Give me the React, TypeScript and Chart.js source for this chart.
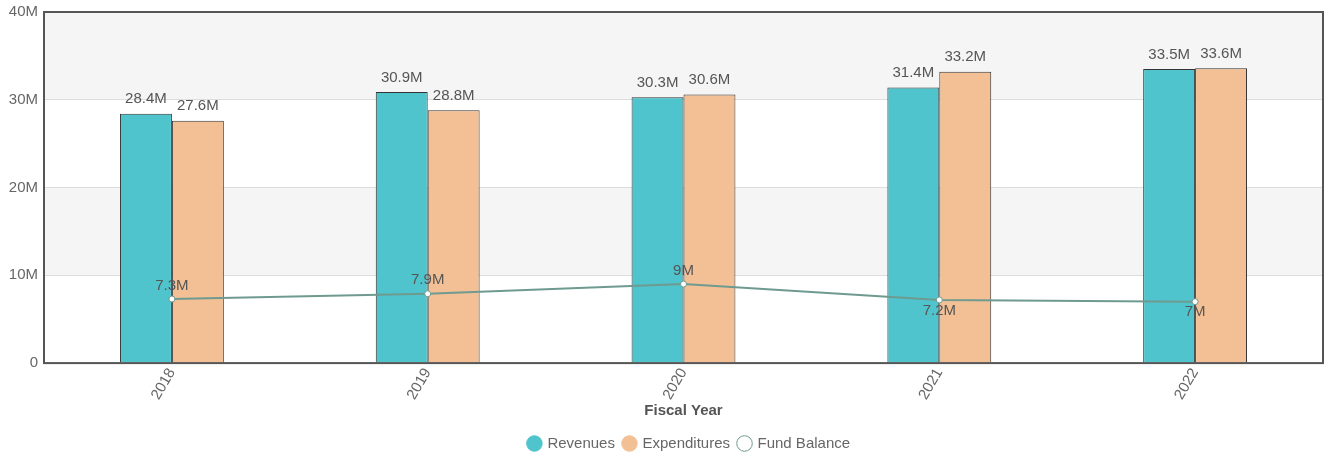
import React, { useEffect, useRef } from "react";
import { Chart, registerables } from "chart.js";

Chart.register(...registerables);

const categories = ["2018", "2019", "2020", "2021", "2022"];
const revenues = [28.4, 30.9, 30.3, 31.4, 33.5];
const expenditures = [27.6, 28.8, 30.6, 33.2, 33.6];
const fundBalance = [7.3, 7.9, 9.0, 7.2, 7.0];
const yTicks = [0, 10, 20, 30, 40];

const FONT = "'Liberation Sans', Arial, sans-serif";
const LINE = "#6f9a8f";
const FS = 15;

const fmt = (v: number) => (v === 0 ? "0" : `${+v.toFixed(1)}M`);

const bandsPlugin = {
  id: "bands",
  afterLayout(chart: any) {
    const lg = chart.legend;
    if (lg) {
      lg.left += 6;
      lg.right += 6;
    }
  },
  beforeDraw(chart: any) {
    const { ctx, chartArea, scales } = chart;
    const y = scales.y;
    ctx.save();
    for (let i = 0; i < yTicks.length - 1; i++) {
      if (i % 2 === 1) {
        const top = y.getPixelForValue(yTicks[i + 1] * 1e6);
        const bot = y.getPixelForValue(yTicks[i] * 1e6);
        ctx.fillStyle = "#f5f5f5";
        ctx.fillRect(chartArea.left, top, chartArea.right - chartArea.left, bot - top);
      }
    }
    ctx.restore();
  },
  afterDraw(chart: any) {
    const { ctx, chartArea } = chart;
    ctx.save();
    ctx.strokeStyle = "#555";
    ctx.lineWidth = 2;
    ctx.strokeRect(chartArea.left, chartArea.top, chartArea.right - chartArea.left, chartArea.bottom - chartArea.top);
    ctx.restore();
  },
};

const labelsPlugin = {
  id: "valueLabels",
  afterDatasetsDraw(chart: any) {
    const { ctx } = chart;
    ctx.save();
    ctx.font = `${FS}px ${FONT}`;
    ctx.fillStyle = "#555";
    ctx.textAlign = "center";
    chart.data.datasets.forEach((ds: any, di: number) => {
      const meta = chart.getDatasetMeta(di);
      meta.data.forEach((el: any, i: number) => {
        const v = ds.data[i] / 1e6;
        const text = fmt(v);
        if (ds.type === "line") {
          const prev = i > 0 ? ds.data[i - 1] : -Infinity;
          const above = ds.data[i] > prev;
          if (above) {
            ctx.textBaseline = "bottom";
            ctx.fillText(text, el.x, el.y - 6);
          } else {
            ctx.textBaseline = "top";
            ctx.fillText(text, el.x, el.y + 3);
          }
        } else {
          ctx.textBaseline = "bottom";
          ctx.fillText(text, el.x, el.y - 7);
        }
      });
    });
    ctx.restore();
  },
};

export default function App() {
  const ref = useRef<HTMLCanvasElement>(null);
  useEffect(() => {
    document.body.style.margin = "0";
    const chart = new Chart(ref.current!, {
      type: "bar",
      data: {
        labels: categories,
        datasets: [
          {
            type: "line",
            label: "Fund Balance",
            data: fundBalance.map((v) => v * 1e6),
            borderColor: LINE,
            backgroundColor: "#fff",
            borderWidth: 2,
            pointRadius: 3,
            pointBorderWidth: 1,
            pointBackgroundColor: "#fff",
            pointBorderColor: LINE,
            order: 0,
          } as any,
          {
            label: "Revenues",
            data: revenues.map((v) => v * 1e6),
            backgroundColor: "#50c4cc",
            borderColor: "#333",
            borderWidth: 1,
            order: 1,
          },
          {
            label: "Expenditures",
            data: expenditures.map((v) => v * 1e6),
            backgroundColor: "#f3c096",
            borderColor: "#333",
            borderWidth: 1,
            order: 1,
          },
        ],
      },
      options: {
        animation: false,
        responsive: true,
        maintainAspectRatio: false,
        layout: { padding: { top: 12, right: -2, left: 0, bottom: -7 } },
        datasets: { bar: { categoryPercentage: 0.406, barPercentage: 1 } },
        plugins: {
          legend: {
            position: "bottom",
            fullSize: false,
            labels: {
              font: { family: FONT, size: FS },
              color: "#666",
              usePointStyle: true,
              pointStyle: "circle",
              boxWidth: 11,
              boxHeight: 11,
              padding: 9,
              generateLabels: (chart: any) => {
                const order = ["Revenues", "Expenditures", "Fund Balance"];
                return order.map((name) => {
                  const di = chart.data.datasets.findIndex((d: any) => d.label === name);
                  const ds = chart.data.datasets[di];
                  const isLine = ds.type === "line";
                  return {
                    text: name,
                    datasetIndex: di,
                    fillStyle: isLine ? "#fff" : ds.backgroundColor,
                    strokeStyle: isLine ? LINE : ds.backgroundColor,
                    lineWidth: 1,
                    pointStyle: "circle",
                    fontColor: "#666",
                    hidden: false,
                  };
                });
              },
            },
          },
          tooltip: { enabled: false },
        },
        scales: {
          x: {
            afterFit: (s: any) => {
              s.paddingRight = 0;
            },
            grid: { display: false, drawTicks: false },
            border: { display: false },
            ticks: {
              font: { family: FONT, size: FS },
              color: "#666",
              padding: 2,
              minRotation: 60,
              maxRotation: 60,
            },
            title: {
              display: true,
              text: "Fiscal Year",
              font: { family: FONT, size: FS, weight: "bold" },
              color: "#555",
              padding: { top: -3, bottom: 7 },
            },
          },
          y: {
            min: 0,
            max: 40e6,
            afterFit: (s: any) => {
              s.width = 44;
              s.paddingTop = 0;
            },
            ticks: {
              stepSize: 10e6,
              font: { family: FONT, size: FS },
              color: "#666",
              padding: 6,
              callback: (v: any) => fmt(Number(v) / 1e6),
            },
            grid: { color: "#dddddd", drawTicks: false },
            border: { display: false },
          },
        },
      },
      plugins: [bandsPlugin, labelsPlugin],
    });
    return () => chart.destroy();
  }, []);
  return (
    <div style={{ position: "relative", width: 1328, height: 454 }}>
      <canvas ref={ref} />
    </div>
  );
}
